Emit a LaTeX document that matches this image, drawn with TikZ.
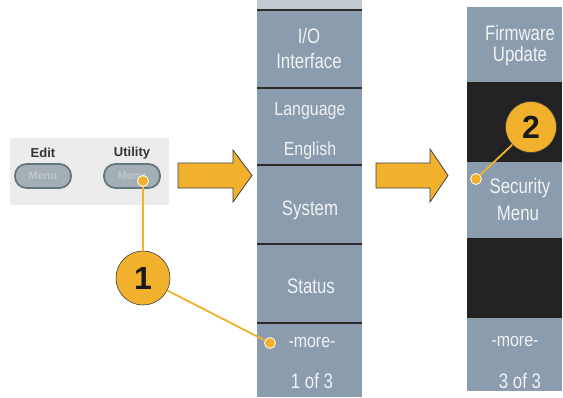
\documentclass[tikz,border=0pt]{standalone}
\usepackage{fontspec}
\setmainfont{Liberation Sans}
\newfontfamily\menufont[FakeStretch=0.8]{Liberation Sans}
\newfontfamily\smallmenufont[FakeStretch=0.84]{Liberation Sans}
\usetikzlibrary{calc}
\definecolor{panelgray}{HTML}{8A9CAD}
\definecolor{striplight}{HTML}{C2C9CF}
\definecolor{orangec}{HTML}{F2B12C}
\definecolor{sepdark}{HTML}{2B2B2B}
\definecolor{cellblack}{HTML}{222222}
\definecolor{menutext}{HTML}{F0F2F4}
\definecolor{btnpanel}{HTML}{ECECEC}
\definecolor{btnfill}{HTML}{A4AFB5}
\definecolor{btnedge}{HTML}{66767E}
\definecolor{labeltext}{HTML}{333333}
\tikzset{
  cell/.style={fill=panelgray, draw=none, inner sep=0pt, minimum width=#1},
  blackcell/.style={fill=cellblack, draw=none, inner sep=0pt, minimum width=95},
  menutxt/.style={font=\menufont\fontsize{21}{22}\selectfont, text=menutext, inner sep=0pt, anchor=base},
  smalltxt/.style={font=\smallmenufont\fontsize{19}{20}\selectfont, text=menutext, inner sep=0pt, anchor=base},
  seprule/.style={draw=sepdark, line width=2pt},
  btnlabel/.style={font=\bfseries\fontsize{13}{14}\selectfont, text=labeltext, inner sep=0pt},
  btn/.style={draw=btnedge, line width=1.8pt, fill=btnfill, rounded corners=11.5pt, minimum width=56, minimum height=24, inner sep=0pt, font=\bfseries\fontsize{11}{12}\selectfont, text=btnfill!70!white},
  numcircle/.style={circle, fill=orangec, draw=black!75, line width=0.6pt, inner sep=0pt, font=\bfseries\fontsize{32}{32}\selectfont, text=black!90},
  leader/.style={draw=orangec, line width=1.8pt},
  dot/.style={circle, fill=orangec, draw=white, line width=0.8pt, minimum size=11pt, inner sep=0pt},
  bigarrow/.style={fill=orangec, draw=black!75, line width=0.8pt, line join=miter}
}
\begin{document}
\begin{tikzpicture}[x=1pt,y=-1pt]
\useasboundingbox (0,0) rectangle (563,397);
\fill[white] (0,0) rectangle (563,397);

% button panel
\node[fill=btnpanel, inner sep=0pt, minimum width=159, minimum height=67] (bpanel) at (89.5,171.5) {};
\node[btnlabel] (editlbl) at (43,153) {Edit};
\node[btnlabel] (utillbl) at (132,153) {Utility};
\node[btn] (editbtn) at (43,176) {Menu};
\node[btn] (utilbtn) at (132,176) {Menu};

% middle panel
\fill[striplight] (257,0) rectangle (362,9);
\node[cell=105, minimum height=77] (io) at (309.5,49.5) {};
\node[cell=105, minimum height=77] (lang) at (309.5,126.5) {};
\node[cell=105, minimum height=79] (sys) at (309.5,204.5) {};
\node[cell=105, minimum height=79] (stat) at (309.5,283.5) {};
\node[cell=105, minimum height=74] (more) at (309.5,360) {};
\foreach \yy in {10,88,165,244,323} \draw[seprule] (257,\yy) -- (362,\yy);

\node[menutxt] (ioA) at (309,43) {I/O};
\node[menutxt] (ioB) at (309,68) {Interface};
\node[smalltxt] (langA) at (310,115) {Language};
\node[smalltxt] (langB) at (310,155) {English};
\node[menutxt] (sysT) at (310,215) {System};
\node[menutxt] (statT) at (311,293) {Status};
\node[smalltxt] (moreA) at (312,347) {-more-};
\node[menutxt] (moreB) at (312,388) {1 of 3};

% right panel
\node[cell=95, minimum height=75] (fw) at (514.5,44.5) {};
\node[blackcell, minimum height=80] (blkA) at (514.5,122) {};
\node[cell=95, minimum height=76] (sec) at (514.5,200) {};
\node[blackcell, minimum height=80] (blkB) at (514.5,278) {};
\node[cell=95, minimum height=73] (more2) at (514.5,354.5) {};

\node[menutxt] (fwA) at (520,40) {Firmware};
\node[menutxt] (fwB) at (520,61) {Update};
\node[menutxt] (secA) at (520,193) {Security};
\node[menutxt] (secB) at (518,220) {Menu};
\node[smalltxt] (more2A) at (515,346) {-more-};
\node[menutxt] (more2B) at (520,388) {3 of 3};

% arrows
\draw[bigarrow] (178,163) -- (233,163) -- (233,150) -- (252,175.5) -- (233,202) -- (233,188) -- (178,188) -- cycle;
\draw[bigarrow] (376,163) -- (430,163) -- (430,149) -- (448,175.5) -- (430,202) -- (430,188) -- (376,188) -- cycle;

% callouts
\node[numcircle, minimum size=54] (c1) at (143,278) {1};
\node[numcircle, minimum size=51] (c2) at (531,127) {2};
\node[dot] (d0) at (143,181) {};
\node[dot] (d1) at (270,343) {};
\node[dot] (d2) at (476,179) {};
\draw[leader] (d0) -- (c1);
\draw[leader] (c1) -- (d1);
\draw[leader] (c2) -- (d2);
\end{tikzpicture}
\end{document}
